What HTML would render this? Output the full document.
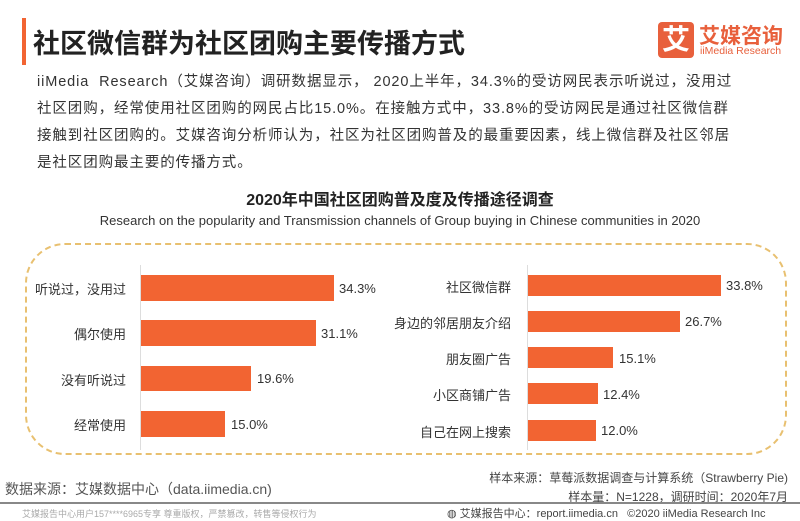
<!DOCTYPE html>
<html><head><meta charset="utf-8"><style>
body{margin:0;width:800px;height:519px;background:#fff;position:relative;overflow:hidden;font-family:"Liberation Sans","Noto Sans CJK SC",sans-serif;color:#333}
.a{position:absolute;white-space:nowrap}
.bar{position:absolute;background:#f26432}
.lab{position:absolute;font-size:13px;color:#333;white-space:nowrap}
.r{text-align:right}
</style></head><body>
<div class="a" style="left:22px;top:18px;width:4px;height:47px;background:#f26432"></div>
<div class="a" style="left:33px;top:22px;font-size:27px;font-weight:bold;color:#222">社区微信群为社区团购主要传播方式</div>
<div class="a" style="left:658px;top:22px;width:36px;height:36px;background:#e8603c;border-radius:4px;color:#fff;font-size:28px;font-weight:bold;text-align:center;line-height:36px">艾</div>
<div class="a" style="left:699px;top:20px;font-size:21px;color:#e8603c;font-weight:bold">艾媒咨询</div>
<div class="a" style="left:700px;top:45px;font-size:10.5px;color:#e8603c">iiMedia Research</div>
<div class="a" style="left:37px;top:69px;font-size:14.5px;line-height:27px;color:#333;letter-spacing:0.9px">iiMedia&nbsp; Research（艾媒咨询）调研数据显示，&nbsp;2020上半年，34.3%的受访网民表示听说过，没用过<br>社区团购，经常使用社区团购的网民占比15.0%。在接触方式中，33.8%的受访网民是通过社区微信群<br>接触到社区团购的。艾媒咨询分析师认为，社区为社区团购普及的最重要因素，线上微信群及社区邻居<br>是社区团购最主要的传播方式。</div>
<div class="a" style="left:0;width:800px;text-align:center;top:186px;font-size:16px;font-weight:bold;color:#222">2020年中国社区团购普及度及传播途径调查</div>
<div class="a" style="left:0;width:800px;text-align:center;top:213px;font-size:13px;color:#333">Research on the popularity and Transmission channels of Group buying in Chinese communities in 2020</div>
<div class="a" style="left:25px;top:243px;width:758px;height:208px;border:2px dashed #e8c070;border-radius:40px"></div>
<div class="a" style="left:140px;top:265px;width:1px;height:185px;background:#ddd"></div>
<div class="a" style="left:527px;top:265px;width:1px;height:185px;background:#ddd"></div>
<div class="bar" style="left:141px;top:275px;width:193px;height:26px"></div>
<div class="bar" style="left:141px;top:320px;width:175px;height:26px"></div>
<div class="bar" style="left:141px;top:366px;width:110px;height:25px"></div>
<div class="bar" style="left:141px;top:411px;width:84px;height:26px"></div>
<div class="lab r" style="right:674px;top:279px">听说过，没用过</div>
<div class="lab r" style="right:674px;top:324px">偶尔使用</div>
<div class="lab r" style="right:674px;top:370px">没有听说过</div>
<div class="lab r" style="right:674px;top:415px">经常使用</div>
<div class="lab" style="left:339px;top:281px">34.3%</div>
<div class="lab" style="left:321px;top:326px">31.1%</div>
<div class="lab" style="left:257px;top:371px">19.6%</div>
<div class="lab" style="left:231px;top:417px">15.0%</div>
<div class="bar" style="left:528px;top:275px;width:193px;height:21px"></div>
<div class="bar" style="left:528px;top:311px;width:152px;height:21px"></div>
<div class="bar" style="left:528px;top:347px;width:85px;height:21px"></div>
<div class="bar" style="left:528px;top:383px;width:70px;height:21px"></div>
<div class="bar" style="left:528px;top:420px;width:68px;height:21px"></div>
<div class="lab r" style="right:289px;top:277px">社区微信群</div>
<div class="lab r" style="right:289px;top:313px">身边的邻居朋友介绍</div>
<div class="lab r" style="right:289px;top:349px">朋友圈广告</div>
<div class="lab r" style="right:289px;top:385px">小区商铺广告</div>
<div class="lab r" style="right:289px;top:422px">自己在网上搜索</div>
<div class="lab" style="left:726px;top:278px">33.8%</div>
<div class="lab" style="left:685px;top:314px">26.7%</div>
<div class="lab" style="left:619px;top:351px">15.1%</div>
<div class="lab" style="left:603px;top:387px">12.4%</div>
<div class="lab" style="left:601px;top:423px">12.0%</div>
<div class="a" style="left:5px;top:479px;font-size:14px;color:#555">数据来源：艾媒数据中心（data.iimedia.cn)</div>
<div class="a" style="right:12px;top:469px;font-size:12px;color:#444">样本来源：草莓派数据调查与计算系统（Strawberry Pie)</div>
<div class="a" style="right:12px;top:488px;font-size:12px;color:#444">样本量：N=1228，调研时间：2020年7月</div>
<div class="a" style="left:0;top:502px;width:800px;height:2px;background:#888"></div>
<div class="a" style="left:22px;top:507px;font-size:9px;color:#aaa">艾媒报告中心用户157****6965专享 尊重版权，严禁篡改，转售等侵权行为</div>
<div class="a" style="left:447px;top:505px;font-size:11px;color:#444">◍ 艾媒报告中心：report.iimedia.cn&nbsp;&nbsp; ©2020 iiMedia Research Inc</div>
</body></html>
